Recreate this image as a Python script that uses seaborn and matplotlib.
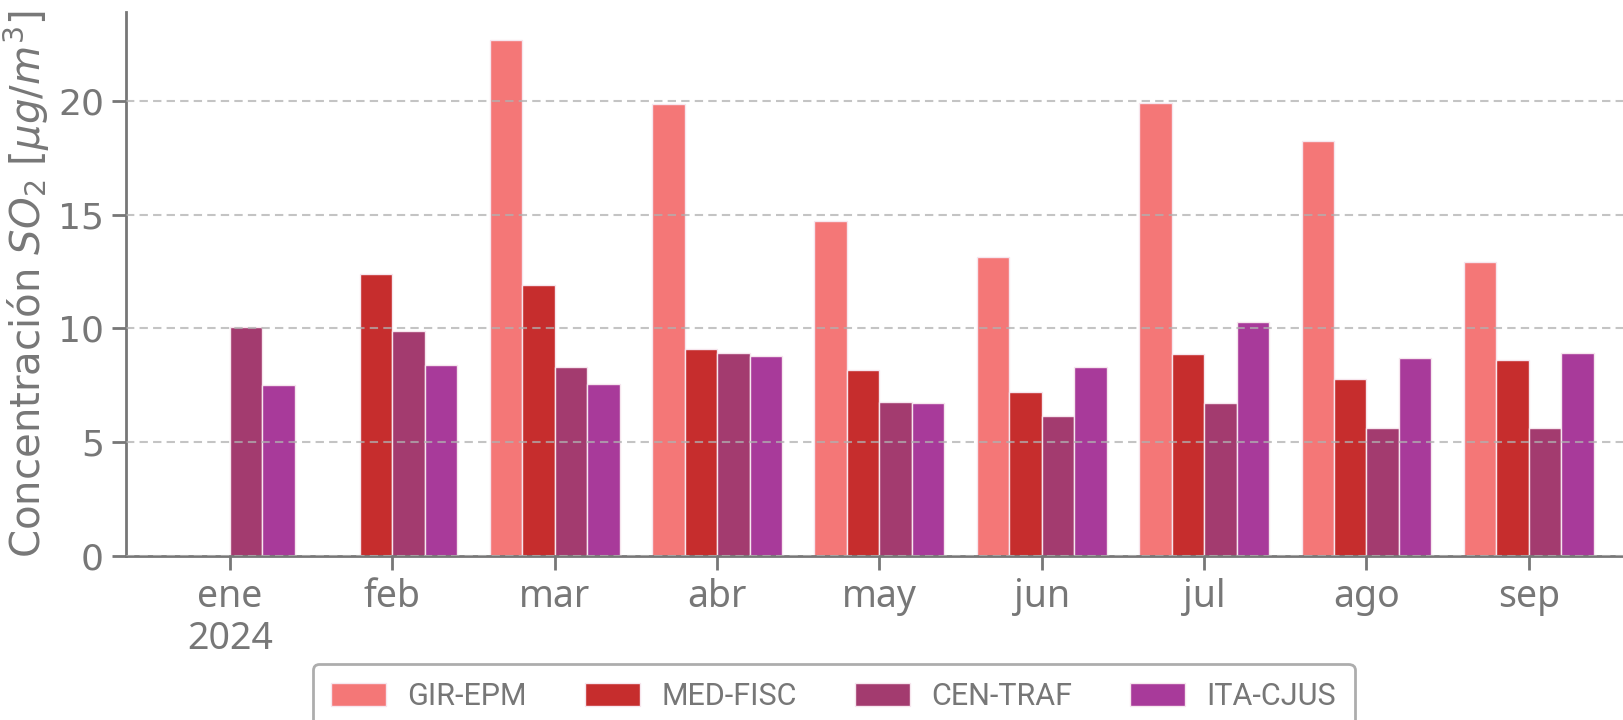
import matplotlib
matplotlib.use("Agg")
import matplotlib.pyplot as plt
import seaborn as sns
import numpy as np
import pandas as pd

months = ["ene\n2024", "feb", "mar", "abr", "may", "jun", "jul", "ago", "sep"]
stations = ["GIR-EPM", "MED-FISC", "CEN-TRAF", "ITA-CJUS"]
gir_epm = [np.nan, np.nan, 22.66, 19.88, 14.72, 13.13, 19.91, 18.24, 12.92]
med_fisc = [np.nan, 12.37, 11.91, 9.08, 8.19, 7.22, 8.87, 7.78, 8.62]
cen_traf = [10.08, 9.90, 8.31, 8.94, 6.78, 6.15, 6.72, 5.60, 5.60]
ita_cjus = [7.50, 8.40, 7.54, 8.80, 6.72, 8.30, 10.30, 8.68, 8.92]
colors = ["#F47777", "#C62D2D", "#A33B6F", "#A83A9A"]

rows = []
for st, vals in zip(stations, [gir_epm, med_fisc, cen_traf, ita_cjus]):
    for m, v in zip(months, vals):
        rows.append({"mes": m, "estacion": st, "valor": v})
df = pd.DataFrame(rows)

sns.set_style("white")
plt.rcParams['font.family'] = ['DejaVu Sans']
gray = "#777777"

fig = plt.figure(figsize=(16.23, 7.2), dpi=100)
ax = fig.add_axes([0.0778, 0.228, 1 - 0.0778, 0.983 - 0.228])

sns.barplot(data=df, x="mes", y="valor", hue="estacion", order=months,
            hue_order=stations, palette=colors, width=0.8, ax=ax,
            edgecolor="#f6e6ee", linewidth=1.0, saturation=1)

ax.set_xlim(-0.639, 8.58)
ax.set_ylim(0, 23.9)
ax.set_yticks([0, 5, 10, 15, 20])
ax.set_xlabel("")
ax.set_ylabel(r"Concentración $SO_2$ [$\mu g/m^3$]", fontsize=29, color=gray, labelpad=4)

for s in ["top", "right"]:
    ax.spines[s].set_visible(False)
for s in ["left", "bottom"]:
    ax.spines[s].set_color(gray)
    ax.spines[s].set_linewidth(2)

ax.tick_params(axis="both", colors=gray, length=10, width=2, direction="out",
               bottom=True, left=True)
ax.tick_params(axis="y", labelsize=26, pad=6)
ax.tick_params(axis="x", pad=6)
for lbl in ax.get_xticklabels():
    lbl.set_fontfamily(["Noto Sans", "DejaVu Sans"])
    lbl.set_fontsize(27)
    lbl.set_linespacing(1.15)
    lbl.set_color(gray)

ax.yaxis.grid(True, linestyle=(0, (4, 2.5)), color="#b0b0b0", linewidth=1.5, alpha=0.75)
ax.set_axisbelow(False)

handles, labels = ax.get_legend_handles_labels()
ax.get_legend().remove()
leg = fig.legend(handles, labels, loc="upper center", bbox_to_anchor=(0.5136, 0.078),
                 ncol=4, frameon=True, fancybox=True,
                 prop={"family": ["Roboto", "DejaVu Sans"], "size": 22},
                 handlelength=1.8, handleheight=0.75, handletextpad=0.7,
                 columnspacing=1.9, borderaxespad=0, borderpad=0.6)
leg.get_frame().set_edgecolor("#999999")
leg.get_frame().set_linewidth(2)
for t in leg.get_texts():
    t.set_color(gray)

fig.savefig("out.png", dpi=100)
